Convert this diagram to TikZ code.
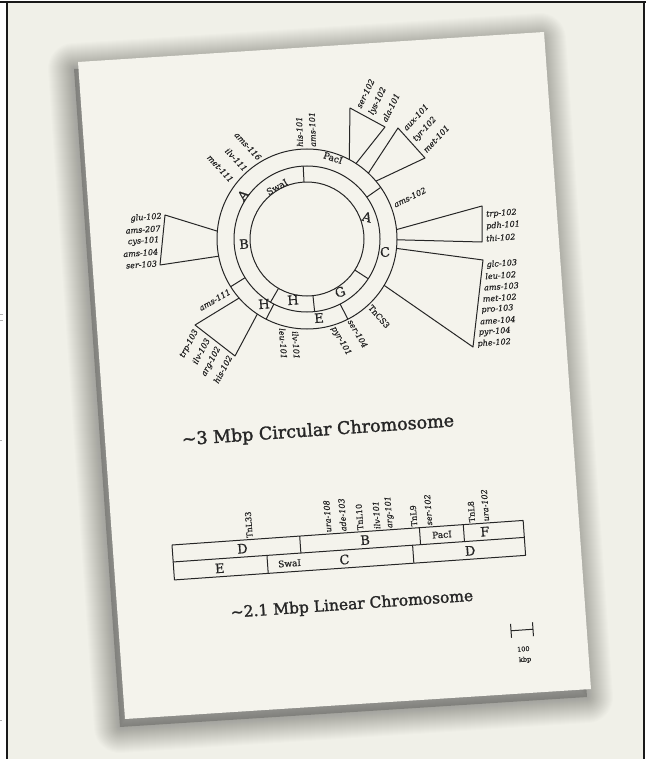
\documentclass[tikz,border=0pt]{standalone}
\usepackage{fontspec}
\setmainfont{DejaVu Serif}[FakeBold=0.6]
\newfontfamily\ttlfont{DejaVu Serif}[FakeBold=1.6]
\definecolor{bgc}{HTML}{F0F0E8}
\definecolor{paperc}{HTML}{F4F3EC}
\definecolor{ink}{HTML}{262626}
\tikzset{
  ln/.style={draw=ink, line width=1pt, line join=round},
  gl/.style={font=\fontsize{8.1}{8.1}\selectfont\itshape, text=ink, inner sep=0pt},
  tn/.style={font=\fontsize{8.1}{8.1}\selectfont, text=ink, inner sep=0pt},
  seg/.style={font=\fontsize{13}{13}\selectfont, text=ink, inner sep=0pt},
  segs/.style={font=\fontsize{9}{9}\selectfont, text=ink, inner sep=0pt},
  ttl/.style={font=\ttlfont\fontsize{15.5}{15.5}\selectfont, text=ink, inner sep=0pt},
  ttlb/.style={font=\ttlfont\fontsize{17.5}{17.5}\selectfont, text=ink, inner sep=0pt},
  sbar/.style={font=\fontsize{6.5}{6.5}\selectfont, text=ink, inner sep=0pt},
}
\begin{document}
\begin{tikzpicture}[x=1pt,y=-1pt]
\useasboundingbox (0,0) rectangle (646,759);
% background and frame
\fill[white] (0,0) rectangle (646,759);
\fill[bgc] (6.7,2.5) rectangle (643.5,759);
\draw[black!90, line width=2.2pt] (0,2.2) -- (646,2.2);
\draw[black!90, line width=2pt] (6.7,2) -- (6.7,759);
\draw[black!90, line width=2pt] (643.8,2) -- (643.8,759);
\draw[gray!60, line width=0.8pt] (0,314) -- (2.5,314) (0,320) -- (2.5,320) (0,440) -- (2,440) (0,720) -- (2,720);
% paper shadow
\coordinate (sTL) at (74,69);
\coordinate (sTR) at (540,39);
\coordinate (sBR) at (587,697);
\coordinate (sBL) at (120,727);
\fill[black, opacity=0.22] (sTL) -- (sTR) -- (sBR) -- (sBL) -- cycle;
\foreach \i in {1,...,26} {
  \pgfmathsetmacro\w{2*\i}
  \draw[black, opacity=0.012, line width=\w pt, line join=round] (sTL) -- (sTR) -- (sBR) -- (sBL) -- cycle;
}
% paper
\coordinate (pTL) at (78,62);
\coordinate (pTR) at (544,32);
\coordinate (pBR) at (591,689);
\coordinate (pBL) at (125,719);
\fill[paperc] (pTL) -- (pTR) -- (pBR) -- (pBL) -- cycle;

% ---------------- circular chromosome ----------------
\coordinate (O) at (307,239);
\draw[ln] (O) circle[radius=90pt];
\draw[ln] (O) circle[radius=73pt];
\draw[ln] (O) circle[radius=57pt];
\foreach \a in {-35,63,117,148}
  \draw[ln] ([shift={(\a:73)}]O) -- ([shift={(\a:90)}]O);
\foreach \a in {-93,33,84,120}
  \draw[ln] ([shift={(\a:57)}]O) -- ([shift={(\a:73)}]O);
% fans
\draw[ln] ([shift={(-62:90)}]O) -- (350,108) -- (385,127) -- ([shift={(-57:90)}]O);
\draw[ln] ([shift={(-47:90)}]O) -- (398,128) -- (425,158) -- ([shift={(-40:90)}]O);
\draw[ln] ([shift={(-6:90)}]O) -- (482,206) -- (482,242) -- ([shift={(0.5:90)}]O);
\draw[ln] ([shift={(6:90)}]O) -- (483,260) -- (473,347) -- ([shift={(31:90)}]O);
\draw[ln] ([shift={(185:90)}]O) -- (165,215) -- (160,265) -- ([shift={(169:90)}]O);
\draw[ln] ([shift={(139:90)}]O) -- (195,325) -- (235,356) -- ([shift={(123.5:90)}]O);
% ring labels
\node[segs, rotate=-18] (pac) at (333,158) {PacI};
\node[segs, rotate=30] (swa) at (277,187) {SwaI};
\node[seg, rotate=50] (fa1) at (243,195) {A};
\node[seg, rotate=4] (fb) at (244,244) {B};
\node[seg, rotate=4] (fh1) at (264,304) {H};
\node[seg, rotate=4] (fh2) at (293,300) {H};
\node[seg, rotate=4] (fe) at (319,318) {E};
\node[seg, rotate=20] (fg) at (340,292) {G};
\node[seg, rotate=-15] (fa2) at (367,217) {A};
\node[seg, rotate=4] (fc) at (385,252) {C};
% gene labels round the circle
\foreach \x/\y/\t [count=\k] in {260/159/ams-116,246/170/ilv-111,232/181/met-111}
  \node[gl, anchor=east, rotate=-47] (tl\k) at (\x,\y) {\t};
\foreach \x/\y/\t [count=\k] in {300/147/his-101,313/147/ams-101}
  \node[gl, anchor=west, rotate=92] (tv\k) at (\x,\y) {\t};
\foreach \x/\y/\t [count=\k] in {358.5/107.6/ser-102,371.2/114.5/lys-102,383.9/121.4/ala-101}
  \node[gl, anchor=west, rotate=64] (fa\k) at (\x,\y) {\t};
\foreach \x/\y/\t [count=\k] in {404.5/129.2/aux-101,414.5/140.3/tyr-102,424.5/151.4/met-101}
  \node[gl, anchor=west, rotate=47] (fb\k) at (\x,\y) {\t};
\node[gl, anchor=west, rotate=26] (am2) at (394,205) {ams-102};
\foreach \y/\t [count=\k] in {214.5/trp-102,226.5/pdh-101,238.5/thi-102}
  \node[gl, anchor=west, rotate=4] (fr\k) at (486,\y) {\t};
\foreach \y/\t [count=\k] in {265/glc-103,276.3/leu-102,287.6/ams-103,298.9/met-102,310.2/pro-103,321.5/ame-104,332.8/pyr-104,344.1/phe-102}
  \node[gl, anchor=west, rotate=4] (fg\k) at ({487-(\y-260)*0.115},\y) {\t};
\foreach \y/\t [count=\k] in {216.5/glu-102,228.3/ams-207,240/cys-101,251.7/ams-104,263.5/ser-103}
  \node[gl, anchor=east, rotate=4] (fl\k) at ({162-(\y-215)*0.1},\y) {\t};
\node[gl, anchor=east, rotate=30] (am1) at (230,291) {ams-111};
\foreach \x/\y/\t [count=\k] in {196.4/330.0/trp-103,207.6/338.6/ilv-103,218.8/347.2/arg-102,230.0/355.8/his-102}
  \node[gl, anchor=east, rotate=62] (fd\k) at (\x,\y) {\t};
\foreach \x/\y/\t [count=\k] in {282/328/leu-101,295/331/ilv-101}
  \node[gl, anchor=west, rotate=-86] (bh\k) at (\x,\y) {\t};
\foreach \x/\y/\t [count=\k] in {350/320/ser-104,333/327/pyr-101}
  \node[gl, anchor=west, rotate=-60] (be\k) at (\x,\y) {\t};
\node[tn, anchor=west, rotate=-49] (tncs) at (370,306) {TnCS3};

\node[ttlb, rotate=4] (t1) at (318,431) {\textasciitilde3 Mbp Circular Chromosome};

% ---------------- linear chromosome ----------------
\begin{scope}[shift={(172,545)}, rotate=4, transform shape]
  \draw[ln] (0,0) rectangle (352,35);
  \draw[ln] (0,17) -- (352,17);
  \draw[ln] (128,0) -- (128,17) (248,0) -- (248,17) (292,0) -- (292,17);
  \draw[ln] (94,17) -- (94,35) (240,17) -- (240,35);
  \node[seg] (ld1) at (70,8.5) {D};
  \node[seg] (lb) at (193,8.5) {B};
  \node[segs] (lpac) at (270,8.5) {PacI};
  \node[seg] (lf) at (313,8.5) {F};
  \node[seg] (le) at (46,26.5) {E};
  \node[segs] (lswa) at (116,26.5) {SwaI};
  \node[seg] (lc) at (171,26.5) {C};
  \node[seg] (ld2) at (297,26.5) {D};
  \foreach \u/\t [count=\k] in {78/TnL33,189/TnL10,243/TnL9,301/TnL8}
    \node[tn, anchor=west, rotate=90] (ltn\k) at (\u,-1.5) {\t};
  \foreach \u/\t [count=\k] in {157/ura-108,172/ade-103,206/ilv-101,219/arg-101,258/ser-102,315/ura-102}
    \node[gl, anchor=west, rotate=90] (lgn\k) at (\u,-1.5) {\t};
\end{scope}

\node[ttl, rotate=4] (t2) at (352,605) {\textasciitilde2.1 Mbp Linear Chromosome};

% ---------------- scale bar ----------------
\begin{scope}[shift={(522,630)}, rotate=4, transform shape]
  \draw[ln] (-11,0) -- (11,0) (-11,-7) -- (-11,7) (11,-7) -- (11,7);
  \node[sbar] (sb1) at (0,19) {100};
  \node[sbar] (sb2) at (1,30) {kbp};
\end{scope}
\end{tikzpicture}
\end{document}
